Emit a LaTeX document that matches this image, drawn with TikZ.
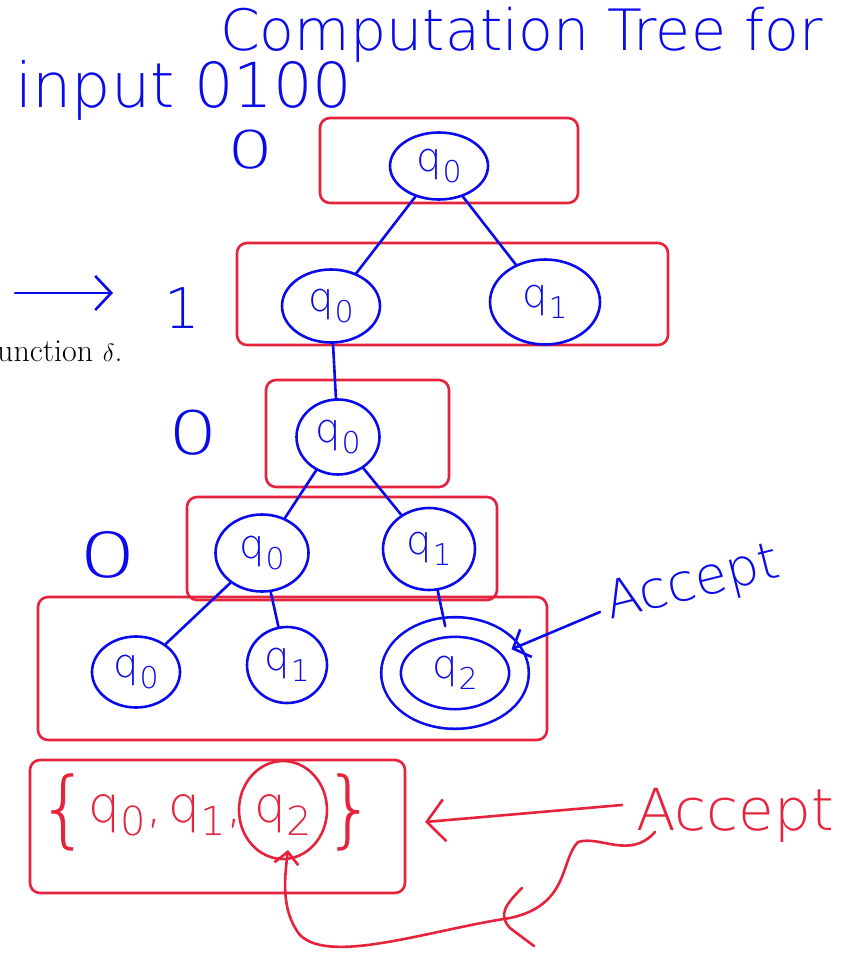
\documentclass[tikz,border=0pt]{standalone}
\usepackage{fontspec}
\newfontfamily\hand{DejaVu Sans ExtraLight}
\usetikzlibrary{shapes.geometric,arrows.meta}
\definecolor{pen}{RGB}{10,10,235}
\definecolor{rpen}{RGB}{230,35,60}
\newcommand\qq[2][30]{q\kern0.02em\raisebox{-0.5ex}{\fontsize{#1}{#1}\selectfont #2}}
\begin{document}
\begin{tikzpicture}[x=1pt,y=-1pt,
 st/.style={ellipse, draw=pen, line width=2.6pt, inner sep=0pt, text=pen, font=\hand\fontsize{40}{40}\selectfont},
 redbox/.style={draw=rpen, line width=2.6pt, rounded corners=10pt, inner sep=0pt},
 tr/.style={draw=pen, line width=2.6pt, line cap=round},
 rp/.style={draw=rpen, line width=2.6pt, line cap=round, line join=round},
 lbl/.style={text=pen, inner sep=0pt},
 rtxt/.style={text=rpen, inner sep=0pt},
]
\useasboundingbox (0,0) rectangle (852,960);

% printed fragment
\node[anchor=base west, inner sep=0pt, font=\fontsize{32}{32}\selectfont] (print) at (-3,361) {unction $\delta$.};

% titles
\node[lbl, anchor=base west, font=\hand\fontsize{57}{57}\selectfont] (title) at (220,51) {Computation Tree for};
\node[lbl, anchor=base west, font=\hand\fontsize{62}{62}\selectfont] (input) at (15,108) {input 0100};

% red level boxes
\node[redbox, minimum width=258pt, minimum height=85pt] (box1) at (449,160.5) {};
\node[redbox, minimum width=431pt, minimum height=102pt] (box2) at (452.5,294) {};
\node[redbox, minimum width=183pt, minimum height=107pt] (box3) at (357.5,433.5) {};
\node[redbox, minimum width=310pt, minimum height=103pt] (box4) at (342,548.5) {};
\node[redbox, minimum width=509pt, minimum height=143pt] (box5) at (292.5,668.5) {};
\node[redbox, minimum width=375pt, minimum height=133pt] (box6) at (217.5,826.5) {};

% level symbols
\node[lbl, font=\hand\fontsize{52}{52}\selectfont] (s1) at (251,150) {\scalebox{1.4}[1]{0}};
\node[lbl, font=\hand\fontsize{56}{56}\selectfont] (s2) at (182,308) {1};
\node[lbl, font=\hand\fontsize{60}{60}\selectfont] (s3) at (193,433) {\scalebox{1.3}[1]{0}};
\node[lbl, font=\hand\fontsize{62}{62}\selectfont] (s4) at (108,555) {\scalebox{1.5}[1]{0}};
\coordinate (ar1) at (15,293);
\coordinate (ar2) at (113,293);
\draw[tr, -{Straight Barb[length=16pt,width=34pt]}] (ar1) -- (ar2);

% states
\node[st, minimum width=98pt, minimum height=67pt] (t0) at (439,166) {\qq{0}};
\node[st, minimum width=98pt, minimum height=73pt] (a0) at (331,306) {\qq{0}};
\node[st, minimum width=110pt, minimum height=85pt] (a1) at (545,302) {\qq{1}};
\node[st, minimum width=83pt, minimum height=75pt] (b0) at (338,437) {\qq{0}};
\node[st, minimum width=93pt, minimum height=77pt] (c0) at (262,553) {\qq{0}};
\node[st, minimum width=92pt, minimum height=82pt] (c1) at (429,549) {\qq{1}};
\node[st, minimum width=88pt, minimum height=71pt] (d0) at (136,672) {\qq{0}};
\node[st, minimum width=80pt, minimum height=76pt] (d1) at (287,665) {\qq{1}};
\node[st, double=white, double distance=17pt, minimum width=128pt, minimum height=92pt] (d2) at (455,673) {\qq{2}};

% tree edges
\draw[tr] (t0) -- (a0);
\draw[tr] (t0) -- (a1);
\draw[tr] (a0) -- (b0);
\draw[tr] (b0) -- (c0);
\draw[tr] (b0) -- (c1);
\draw[tr] (c0) -- (d0);
\draw[tr] (c0) -- (d1);
\draw[tr] (c1) -- (d2);

% blue Accept
\node[lbl, font=\hand\fontsize{52}{52}\selectfont, rotate=14] (acc1) at (693,585) {Accept};
\coordinate (acs) at (600,612);
\draw[tr, -{Straight Barb[length=14pt,width=30pt]}] (acs) -- (d2);

% final set
\node[rtxt, font=\hand\fontsize{84}{84}\selectfont] (lb) at (64,812) {\{};
\node[rtxt, anchor=base west, font=\hand\fontsize{50}{50}\selectfont] (e0) at (88,822) {\qq[40]{0},};
\node[rtxt, anchor=base west, font=\hand\fontsize{50}{50}\selectfont] (e1) at (168,822) {\qq[40]{1},};
\node[rtxt, anchor=base west, font=\hand\fontsize{50}{50}\selectfont] (e2) at (254,822) {\qq[40]{2}};
\node[ellipse, draw=rpen, line width=2.6pt, minimum width=88pt, minimum height=98pt, inner sep=0pt] (e2c) at (283,810) {};
\node[rtxt, font=\hand\fontsize{84}{84}\selectfont] (rb) at (350,812) {\}};

% red Accept
\node[rtxt, anchor=base west, font=\hand\fontsize{58}{58}\selectfont] (acc2) at (636,830) {Accept};
\coordinate (ra1) at (622,805);
\coordinate (ra2) at (425,822);
\draw[rp, -{Straight Barb[length=18pt,width=42pt]}] (ra1) -- (ra2);
\coordinate (cs) at (655,832);
\coordinate (ce) at (288,850);
\draw[rp, -{Straight Barb[length=12pt,width=24pt]}] (cs) .. controls (630,860) and (600,835) .. (578,842)
  .. controls (560,860) and (570,905) .. (510,918)
  .. controls (430,930) and (330,965) .. (300,935)
  .. controls (280,910) and (285,875) .. (ce);
\draw[rp] (522,888) .. controls (505,905) and (498,915) .. (510,928) -- (534,946);
\end{tikzpicture}
\end{document}
